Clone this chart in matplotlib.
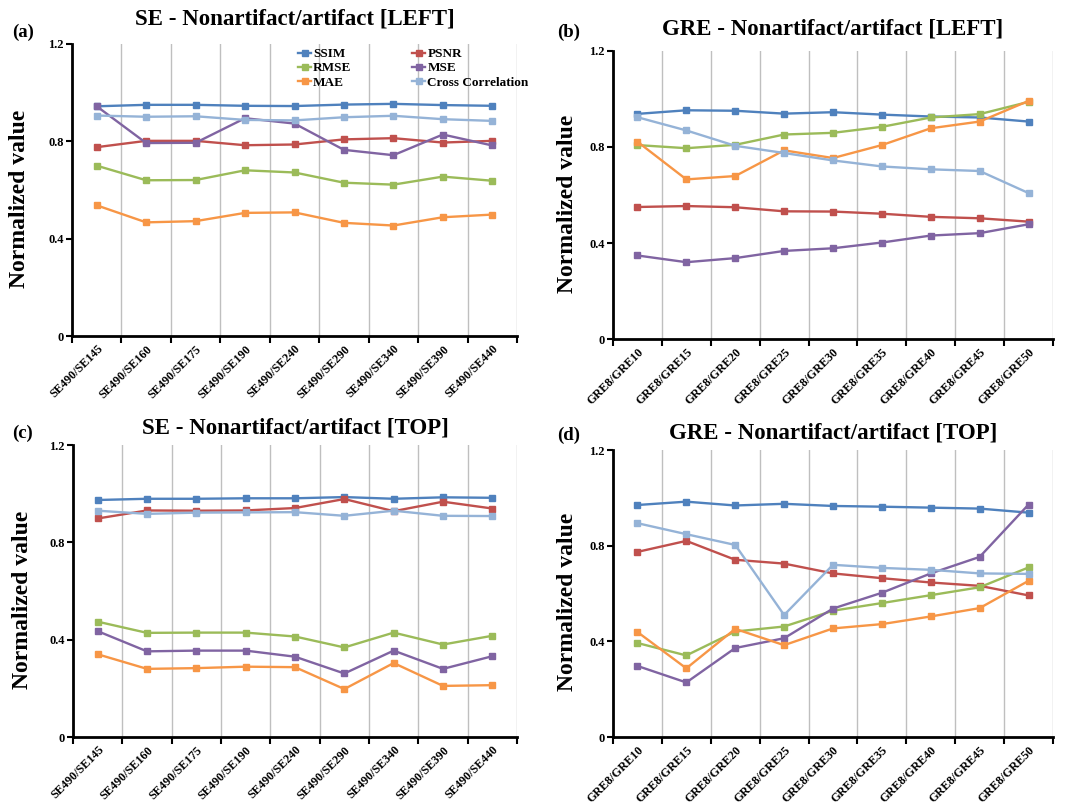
import matplotlib
matplotlib.use("Agg")
import matplotlib.pyplot as plt
import numpy as np

plt.rcParams['font.family'] = ['Liberation Serif', 'DejaVu Serif']
plt.rcParams['font.weight'] = 'bold'

se_categories = ["SE490/SE145", "SE490/SE160", "SE490/SE175", "SE490/SE190", "SE490/SE240",
                 "SE490/SE290", "SE490/SE340", "SE490/SE390", "SE490/SE440"]
gre_categories = ["GRE8/GRE10", "GRE8/GRE15", "GRE8/GRE20", "GRE8/GRE25", "GRE8/GRE30",
                  "GRE8/GRE35", "GRE8/GRE40", "GRE8/GRE45", "GRE8/GRE50"]

metric_names = ["SSIM", "PSNR", "RMSE", "MSE", "MAE", "Cross Correlation"]
metric_colors = ["#4F81BD", "#C0504D", "#9BBB59", "#8064A2", "#F79646", "#95B3D7"]

# (a) SE - LEFT
a_ssim = [0.944, 0.950, 0.950, 0.946, 0.945, 0.951, 0.954, 0.949, 0.946]
a_psnr = [0.776, 0.802, 0.802, 0.784, 0.787, 0.808, 0.813, 0.795, 0.802]
a_rmse = [0.700, 0.640, 0.641, 0.681, 0.672, 0.630, 0.622, 0.655, 0.638]
a_mse = [0.944, 0.793, 0.794, 0.895, 0.873, 0.765, 0.743, 0.828, 0.783]
a_mae = [0.537, 0.467, 0.472, 0.506, 0.508, 0.465, 0.454, 0.488, 0.499]
a_cc = [0.906, 0.901, 0.903, 0.888, 0.886, 0.899, 0.905, 0.891, 0.884]

# (b) GRE - LEFT
b_ssim = [0.938, 0.953, 0.951, 0.939, 0.945, 0.935, 0.927, 0.923, 0.906]
b_psnr = [0.550, 0.554, 0.549, 0.532, 0.531, 0.522, 0.509, 0.503, 0.489]
b_rmse = [0.808, 0.795, 0.809, 0.852, 0.859, 0.884, 0.923, 0.937, 0.988]
b_mse = [0.348, 0.320, 0.337, 0.367, 0.378, 0.402, 0.431, 0.441, 0.478]
b_mae = [0.822, 0.665, 0.679, 0.786, 0.754, 0.808, 0.878, 0.906, 0.992]
b_cc = [0.924, 0.869, 0.805, 0.775, 0.744, 0.719, 0.707, 0.700, 0.608]

# (c) SE - TOP
c_ssim = [0.974, 0.979, 0.979, 0.981, 0.981, 0.986, 0.979, 0.985, 0.983]
c_psnr = [0.898, 0.931, 0.930, 0.931, 0.941, 0.978, 0.928, 0.967, 0.939]
c_rmse = [0.474, 0.428, 0.429, 0.429, 0.413, 0.368, 0.429, 0.380, 0.416]
c_mse = [0.435, 0.352, 0.355, 0.355, 0.330, 0.261, 0.355, 0.280, 0.332]
c_mae = [0.340, 0.280, 0.283, 0.289, 0.287, 0.197, 0.304, 0.210, 0.213]
c_cc = [0.930, 0.917, 0.922, 0.923, 0.924, 0.909, 0.930, 0.909, 0.908]

# (d) GRE - TOP
d_ssim = [0.970, 0.984, 0.968, 0.975, 0.966, 0.963, 0.959, 0.955, 0.938]
d_psnr = [0.774, 0.820, 0.741, 0.725, 0.684, 0.664, 0.646, 0.632, 0.592]
d_rmse = [0.393, 0.341, 0.441, 0.462, 0.528, 0.560, 0.593, 0.626, 0.709]
d_mse = [0.297, 0.228, 0.372, 0.413, 0.537, 0.603, 0.684, 0.753, 0.972]
d_mae = [0.439, 0.287, 0.452, 0.384, 0.454, 0.472, 0.504, 0.539, 0.653]
d_cc = [0.894, 0.848, 0.803, 0.510, 0.720, 0.707, 0.699, 0.684, 0.682]

panel_titles = ["SE - Nonartifact/artifact [LEFT]", "GRE - Nonartifact/artifact [LEFT]",
                "SE - Nonartifact/artifact [TOP]", "GRE - Nonartifact/artifact [TOP]"]
panel_tags = ["(a)", "(b)", "(c)", "(d)"]
y_ticks = [0, 0.4, 0.8, 1.2]
y_tick_labels = ["0", "0.4", "0.8", "1.2"]

panels = [
    (se_categories, [a_ssim, a_psnr, a_rmse, a_mse, a_mae, a_cc]),
    (gre_categories, [b_ssim, b_psnr, b_rmse, b_mse, b_mae, b_cc]),
    (se_categories, [c_ssim, c_psnr, c_rmse, c_mse, c_mae, c_cc]),
    (gre_categories, [d_ssim, d_psnr, d_rmse, d_mse, d_mae, d_cc]),
]

W, H = 1072, 805
fig = plt.figure(figsize=(W / 100, H / 100), dpi=100)

# axes rectangles in pixels: left, top, right, bottom
rects_px = [(72, 44, 517, 336), (613, 51, 1053, 339), (73, 445, 517, 737), (613, 450, 1053, 737)]
title_pads = [14, 12, 8, 8]
tag_pos_px = [(12, 32), (557, 32), (12, 433), (557, 435)]
ylabel_x = [-0.094, -0.08, -0.09, -0.08]

for i, ((cats, series), (l, t, r, b)) in enumerate(zip(panels, rects_px)):
    ax = fig.add_axes([l / W, 1 - b / H, (r - l) / W, (b - t) / H])
    x = np.arange(len(cats))
    handles = []
    for name, col, vals in zip(metric_names, metric_colors, series):
        h, = ax.plot(x, vals, color=col, lw=1.7, marker='s', ms=3.8,
                     markeredgecolor=col, label=name, zorder=3)
        handles.append(h)
    ax.set_xlim(-0.5, len(cats) - 0.5)
    ax.set_ylim(0, 1.2)
    ax.set_yticks(y_ticks)
    ax.set_yticklabels(y_tick_labels, fontsize=9, fontweight='bold')
    ax.set_xticks(x)
    ax.set_xticklabels(cats, rotation=45, ha='right', rotation_mode='anchor',
                       fontsize=8.7, fontweight='bold')
    ax.set_xticks(np.arange(-0.5, len(cats), 1.0), minor=True)
    ax.tick_params(axis='x', which='major', length=0, pad=5)
    ax.tick_params(axis='x', which='minor', length=5, width=1.5, direction='out')
    ax.tick_params(axis='y', which='major', length=4, width=1.5, direction='out', pad=2)
    ax.grid(True, axis='x', which='minor', color='#BFBFBF', lw=1.0, zorder=0)
    ax.grid(False, axis='x', which='major')
    for s in ['top', 'right']:
        ax.spines[s].set_visible(False)
    for s in ['left', 'bottom']:
        ax.spines[s].set_linewidth(2.0)
        ax.spines[s].set_color('black')
    ax.set_ylabel("Normalized value", fontsize=17, fontweight='bold')
    ax.yaxis.set_label_coords(ylabel_x[i], 0.47)
    ax.set_title(panel_titles[i], fontsize=16.5, fontweight='bold', pad=title_pads[i])
    tx, ty = tag_pos_px[i]
    fig.text(tx / W, 1 - ty / H, panel_tags[i], fontsize=13.5, fontweight='bold',
             ha='left', va='center')
    if i == 0:
        order = [0, 2, 4, 1, 3, 5]
        ax.legend([handles[k] for k in order], [metric_names[k] for k in order],
                  ncol=2, frameon=False, loc='upper left',
                  bbox_to_anchor=((298 - l) / (r - l), 1.0 - 4 / (b - t)),
                  prop={'size': 9.5, 'weight': 'bold'}, handlelength=1.0,
                  handletextpad=0.15, columnspacing=4.6, labelspacing=0.15,
                  borderaxespad=0, borderpad=0)

fig.savefig("out.png", dpi=100)
